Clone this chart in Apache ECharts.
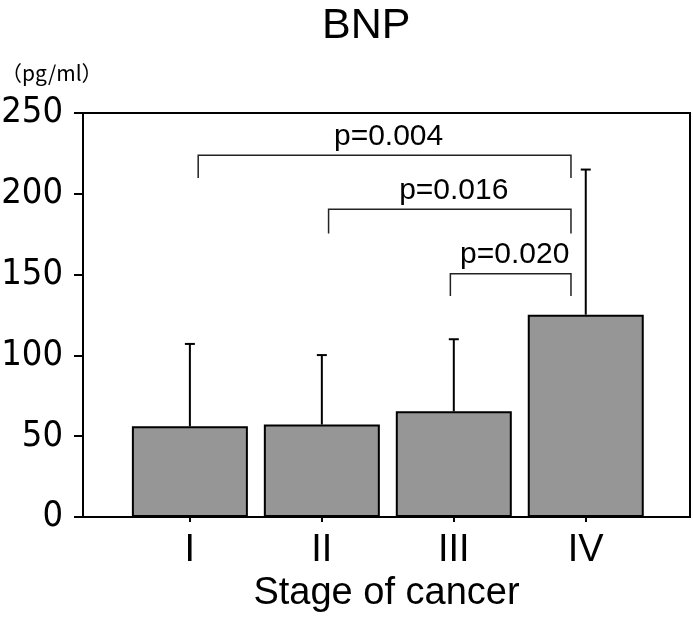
<!DOCTYPE html>
<html>
<head>
<meta charset="utf-8">
<script src="https://cdn.jsdelivr.net/npm/echarts@6/dist/echarts.min.js"></script>
<style>html,body{margin:0;padding:0;background:#fff}#c{width:693px;height:630px}</style>
</head>
<body>
<div id="c"></div>
<script>
var categories = ['I', 'II', 'III', 'IV'];
var means = [56.1, 57.2, 65.4, 125.2];
var upperSD = [107.1, 100.2, 110.0, 215.0];
var yTicks = [0, 50, 100, 150, 200, 250];
// brackets: [from stage index, to stage index (as x positions), top value, bottom value, label]
var bracketFrom = [1.063, 2.051, 2.974];
var bracketTo = [3.888, 3.888, 3.888];
var bracketTop = [223.8, 190.4, 150.6];
var bracketBottom = [209.8, 175.4, 136.8];
var bracketLabels = ['p=0.004', 'p=0.016', 'p=0.020'];

var xPos = categories.map(function (c, i) { return i + 1; });
var barData = means.map(function (v, i) { return [xPos[i], v]; });
var errData = means.map(function (v, i) { return [xPos[i], v, upperSD[i]]; });
var brData = bracketLabels.map(function (l, i) {
  return [bracketFrom[i], bracketTo[i], bracketTop[i], bracketBottom[i], l];
});

var chart = echarts.init(document.getElementById('c'), null, {renderer: 'canvas'});
var sans = '"Liberation Sans", Arial, sans-serif';
chart.setOption({
  animation: false,
  title: [
    {text: 'BNP', left: 317, top: 0, textStyle: {fontFamily: sans, fontSize: 43, fontWeight: 'normal', color: '#000'}},
    {text: '（pg/ml）', left: -4, top: 58, textStyle: {fontFamily: '"Noto Sans CJK JP", sans-serif', fontSize: 21, fontWeight: 'normal', color: '#000'}}
  ],
  grid: {left: 83, right: 3, top: 113, bottom: 113, show: true, borderColor: '#000', borderWidth: 2, backgroundColor: 'transparent', outerBoundsMode: 'none', containLabel: false},
  xAxis: {
    type: 'value', min: 0.19, max: 4.79,
    name: 'Stage of cancer', nameLocation: 'middle', nameGap: 50,
    nameTextStyle: {fontFamily: sans, fontSize: 38, color: '#000'},
    axisLine: {show: true, onZero: false, lineStyle: {color: '#000', width: 2}},
    axisTick: {show: true, length: 5, customValues: xPos, lineStyle: {color: '#000', width: 2}},
    axisLabel: {customValues: xPos, margin: 15, fontFamily: sans, fontSize: 38, color: '#000',
      formatter: function (v) { return categories[Math.round(v) - 1] || ''; }},
    splitLine: {show: false}
  },
  yAxis: {
    type: 'value', min: 0, max: 250, interval: 50,
    axisLine: {show: true, lineStyle: {color: '#000', width: 2}},
    axisTick: {show: true, length: 9, lineStyle: {color: '#000', width: 2}},
    axisLabel: {margin: 20, fontFamily: '"Liberation Sans Narrow", "DejaVu Sans Condensed", sans-serif', fontSize: 36, color: '#000',
      formatter: function (v) { return yTicks.indexOf(v) >= 0 ? String(v) : ''; }},
    splitLine: {show: false}
  },
  series: [
    {
      type: 'bar', data: barData, barWidth: 116,
      itemStyle: {color: '#969696', borderColor: '#000', borderWidth: 2},
      z: 2
    },
    {
      type: 'custom', data: errData, z: 1,
      renderItem: function (params, api) {
        var x = api.value(0);
        var base = api.coord([x, api.value(1)]);
        var top = api.coord([x, api.value(2)]);
        return {type: 'group', children: [
          {type: 'line', shape: {x1: base[0], y1: base[1], x2: top[0], y2: top[1]}, style: {stroke: '#000', lineWidth: 2}},
          {type: 'line', shape: {x1: top[0] - 5, y1: top[1], x2: top[0] + 5, y2: top[1]}, style: {stroke: '#000', lineWidth: 2}}
        ]};
      }
    },
    {
      type: 'custom', data: brData, z: 3,
      renderItem: function (params, api) {
        var a = api.coord([api.value(0), api.value(2)]);
        var b = api.coord([api.value(1), api.value(2)]);
        var a2 = api.coord([api.value(0), api.value(3)]);
        var b2 = api.coord([api.value(1), api.value(3)]);
        return {type: 'group', children: [
          {type: 'polyline', shape: {points: [[a2[0], a2[1]], [a[0], a[1]], [b[0], b[1]], [b2[0], b2[1]]]},
            style: {stroke: '#222', lineWidth: 1.5, fill: null}},
          {type: 'text', x: (a[0] + b[0]) / 2 + 4, y: a[1] - 4,
            style: {text: api.value(4), fill: '#000', font: '30px "Liberation Sans", Arial, sans-serif', align: 'center', verticalAlign: 'bottom'}}
        ]};
      }
    }
  ]
});
</script>
</body>
</html>
